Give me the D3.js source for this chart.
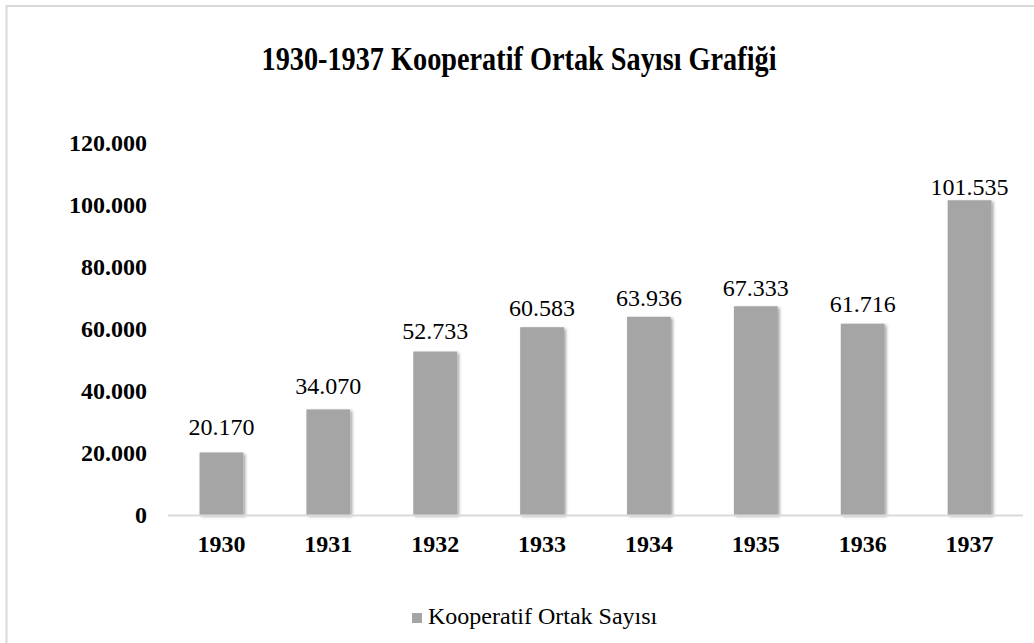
<!DOCTYPE html>
<html>
<head>
<meta charset="utf-8">
<script src="https://cdn.jsdelivr.net/npm/d3@7"></script>
<style>
  body { margin: 0; background: #fff; }
  text { font-family: "Liberation Serif", "DejaVu Serif", serif; }
</style>
</head>
<body>
<div id="chart"></div>
<script>
// data
var years = ["1930", "1931", "1932", "1933", "1934", "1935", "1936", "1937"];
var members = [20170, 34070, 52733, 60583, 63936, 67333, 61716, 101535];
var yTicks = [0, 20000, 40000, 60000, 80000, 100000, 120000];
var seriesName = "Kooperatif Ortak Sayısı";
var title = "1930-1937 Kooperatif Ortak Sayısı Grafiği";

var width = 1034, height = 643;
var barColor = "#a5a5a5";

var svg = d3.select("#chart").append("svg")
    .attr("width", width).attr("height", height);

// soft shadow like the office chart
var defs = svg.append("defs");
var f = defs.append("filter").attr("id", "shadow")
    .attr("x", "-20%").attr("y", "-20%").attr("width", "150%").attr("height", "150%");
f.append("feDropShadow").attr("dx", 2).attr("dy", 1.5)
    .attr("stdDeviation", 1.6).attr("flood-color", "#000").attr("flood-opacity", 0.35);

// outer chart border (only top and left visible)
svg.append("rect")
    .attr("x", 6.5).attr("y", 6).attr("width", width + 20).attr("height", height + 20)
    .attr("fill", "none").attr("stroke", "#d9d9d9").attr("stroke-width", 2);

svg.append("text")
    .attr("x", 519).attr("y", 70)
    .attr("text-anchor", "middle")
    .attr("font-size", 33).attr("font-weight", "bold")
    .attr("textLength", 515).attr("lengthAdjust", "spacingAndGlyphs")
    .text(title);

var x = d3.scaleBand().domain(years).range([168, 1023]).paddingInner(0.59).paddingOuter(0.295);
var y = d3.scaleLinear().domain([0, 120000]).range([515, 143]);
// the data labels in the reference sit on a slightly flatter line than the bars
var yLabel = d3.scaleLinear().domain([0, 120000]).range([494.5, 140.5]);

// y axis labels
var fmt = function(v) { return v === 0 ? "0" : d3.format(",")(v).replace(/,/g, "."); };
var yAxis = d3.axisLeft(y).tickValues(yTicks).tickSize(0).tickPadding(0).tickFormat(fmt);
var gy = svg.append("g").attr("transform", "translate(147,0)").call(yAxis)
    .attr("font-family", null);
gy.select(".domain").remove();
gy.selectAll("text")
    .attr("font-size", 24)
    .attr("font-weight", "bold").attr("fill", "#000");

// bars
svg.append("g").selectAll("rect").data(members).join("rect")
    .attr("x", function(d, i) { return x(years[i]); })
    .attr("y", function(d) { return y(d); })
    .attr("width", x.bandwidth())
    .attr("height", function(d) { return y(0) - y(d); })
    .attr("fill", barColor)
    .attr("filter", "url(#shadow)");

// x axis
var xAxis = d3.axisBottom(x).tickSize(0).tickPadding(0);
var gx = svg.append("g").attr("transform", "translate(0," + y(0) + ")").call(xAxis)
    .attr("font-family", null);
gx.select(".domain").attr("stroke", "#d9d9d9").attr("stroke-width", 2)
    .attr("d", "M168,0.5H1023");
gx.selectAll("text")
    .attr("y", 37).attr("dy", 0)
    .attr("font-size", 24)
    .attr("font-weight", "bold").attr("fill", "#000");

// data labels
svg.append("g").selectAll("text").data(members).join("text")
    .attr("x", function(d, i) { return x(years[i]) + x.bandwidth() / 2; })
    .attr("y", function(d) { return yLabel(d); })
    .attr("text-anchor", "middle")
    .attr("font-size", 24)
    .text(fmt);

// legend
var lg = svg.append("g").attr("transform", "translate(412,613)");
lg.append("rect").attr("width", 10).attr("height", 10).attr("fill", barColor);
lg.append("text").attr("x", 16).attr("y", 11).attr("font-size", 24).text(seriesName);
</script>
</body>
</html>
